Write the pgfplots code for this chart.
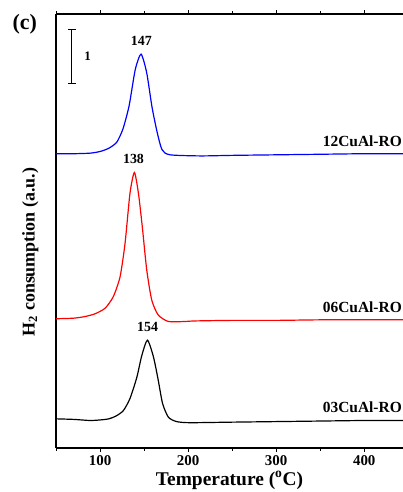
\documentclass[border=0pt]{standalone}
\usepackage{fontspec}
\setmainfont{Liberation Serif}
\usepackage{pgfplots}
\pgfplotsset{compat=1.18}

\begin{document}
\begin{tikzpicture}
\useasboundingbox (-56bp,-44bp) rectangle (347bp,434bp+14bp);
\begin{axis}[
    scale only axis,
    width=347bp, height=434bp,
    xmin=50, xmax=444,
    ymin=0, ymax=7.89,
    axis x line=box,
    axis y line=left,
    axis line style={line width=1.5pt, -},
    ytick=\empty,
    xtick={100,200,300,400},
    minor xtick={50,150,250,350},
    tick align=outside,
    major tick length=4bp,
    minor tick length=2.5bp,
    tick style={line width=1pt, black},
    xticklabel style={font=\fontsize{15}{15}\selectfont\bfseries},
    /pgf/number format/assume math mode=true,
    xlabel={Temperature (\textsuperscript{o}C)},
    ylabel={H\textsubscript{2} consumption (a.u.)},
    xlabel style={font=\fontsize{19.5}{19.5}\selectfont\bfseries, yshift=1bp},
    ylabel style={font=\fontsize{18}{18}\selectfont\bfseries, yshift=10bp, xshift=-21bp},
    clip=false,
]

% 03CuAl-RO
\addplot[black, line width=1.2pt, smooth, tension=0.4] coordinates {
    (50,0.53) (70,0.52) (88.6,0.50) (100,0.51) (110,0.53) (118,0.58) (126.5,0.68) (134,0.90)
    (141.7,1.28) (147.4,1.68) (153.8,1.96) (160.6,1.66) (166,1.24)
    (171,0.81) (177.6,0.56) (187,0.48) (202,0.46) (250,0.47) (300,0.48)
    (350,0.49) (400,0.50) (444,0.50)
};

% 06CuAl-RO
\addplot[red, line width=1.2pt, smooth, tension=0.4] coordinates {
    (50,2.35) (70,2.36) (83,2.39) (94.3,2.44) (105.7,2.54) (115,2.75) (122.7,3.11)
    (128.4,3.72) (134,4.63) (139,5.01) (143.6,4.63) (148,4.02) (153,3.24)
    (158.7,2.69) (166,2.42) (177.6,2.30) (196.6,2.30) (208,2.31)
    (250,2.32) (300,2.32) (350,2.33) (400,2.33) (444,2.33)
};

% 12CuAl-RO
\addplot[blue, line width=1.2pt, smooth, tension=0.4] coordinates {
    (50,5.35) (70,5.35) (88.6,5.36) (100,5.39) (110,5.45) (119,5.56) (126,5.80) (133,6.22)
    (140,6.88) (146.6,7.16) (153,6.82) (159,6.20) (165,5.73) (170.5,5.42)
    (179.5,5.33) (214,5.31) (250,5.32) (300,5.33) (350,5.34) (400,5.35) (444,5.35)
};

% peak labels
\node[font=\fontsize{14}{14}\selectfont\bfseries] at (axis cs:147,7.40) {147};
\node[font=\fontsize{14}{14}\selectfont\bfseries] at (axis cs:138,5.25) {138};
\node[font=\fontsize{14}{14}\selectfont\bfseries] at (axis cs:154,2.20) {154};

% sample labels
\node[font=\fontsize{15.5}{15.5}\selectfont\bfseries, anchor=east, inner sep=1pt] at (axis cs:444,5.58) {12CuAl-RO};
\node[font=\fontsize{15.5}{15.5}\selectfont\bfseries, anchor=east, inner sep=1pt] at (axis cs:444,2.56) {06CuAl-RO};
\node[font=\fontsize{15.5}{15.5}\selectfont\bfseries, anchor=east, inner sep=1pt] at (axis cs:444,0.74) {03CuAl-RO};

% scale bar
\draw[line width=0.9pt, |-|] (axis cs:68,7.62) -- (axis cs:68,6.62);
\node[font=\fontsize{13}{13}\selectfont\bfseries] at (axis cs:86,7.12) {1};

% panel label
\node[font=\fontsize{22}{22}\selectfont\bfseries] at (axis cs:14.5,7.71) {(c)};
\end{axis}
\end{tikzpicture}
\end{document}
